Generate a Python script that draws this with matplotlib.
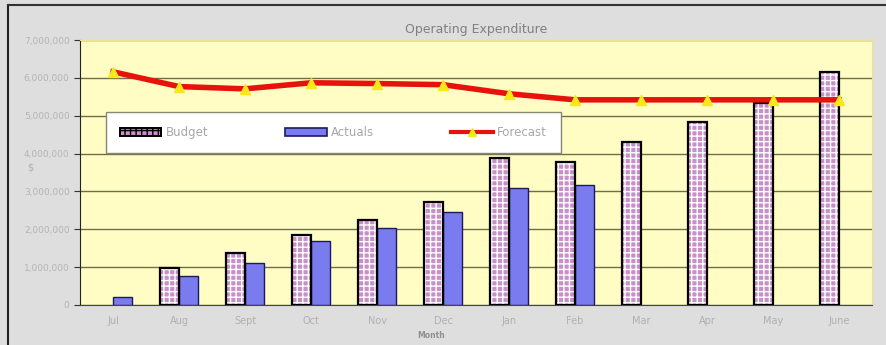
import matplotlib.pyplot as plt
import numpy as np
from matplotlib.patches import Patch
from matplotlib.lines import Line2D
from matplotlib.ticker import FuncFormatter

# Chart data
months = ["Jul", "Aug", "Sept", "Oct", "Nov", "Dec", "Jan", "Feb", "Mar", "Apr", "May", "June"]
budget = [0, 980000, 1370000, 1850000, 2250000, 2720000, 3890000, 3780000,
          4310000, 4840000, 5340000, 6160000]
actuals = [210000, 770000, 1110000, 1690000, 2040000, 2460000, 3090000, 3170000,
           0, 0, 0, 0]
forecast = [6160000, 5770000, 5710000, 5870000, 5850000, 5820000, 5580000, 5420000,
            5420000, 5420000, 5420000, 5420000]

fig = plt.figure(figsize=(8.86, 3.45), dpi=100)
fig.patch.set_facecolor("#dedede")
ax = fig.add_axes([0.0903, 0.116, 0.894, 0.768])
ax.set_facecolor("#fffcc4")

x = np.arange(len(months))
w = 0.29

# empty months are not drawn
bud = np.array(budget, dtype=float)
bud[bud == 0] = np.nan
act = np.array(actuals, dtype=float)
act[act == 0] = np.nan

# Budget: checkered pink bars with black outline
ax.bar(x - w / 2, bud, w, color="#c890c8", edgecolor="white", hatch="+++",
       linewidth=0, zorder=2)
ax.bar(x - w / 2, bud, w, fill=False, edgecolor="black", linewidth=1.6, zorder=3)

# Actuals: blue bars
ax.bar(x + w / 2, act, w, color="#7b7bf0", edgecolor="#1a1a60", linewidth=1.0, zorder=2)

# Forecast line
ax.plot(x, forecast, color="#e8120c", linewidth=4, marker="^", markersize=7,
        markerfacecolor="#f7e81c", markeredgecolor="#f7e81c", zorder=4)

ax.set_xlim(-0.5, len(months) - 0.5)
ax.set_ylim(0, 7000000)
ax.set_yticks(np.arange(0, 7000001, 1000000))
ax.yaxis.set_major_formatter(FuncFormatter(lambda v, p: f"{int(v):,}"))
ax.grid(axis="y", color="#6e6e48", linewidth=1.0, zorder=1)
ax.set_axisbelow(True)

ax.set_xticks(x)
ax.set_xticklabels(months, color="#b0b0b0", fontsize=7)
ax.tick_params(axis="y", labelcolor="#b4b4b4", labelsize=6.5, direction="out",
               length=4, color="#333333")
ax.tick_params(axis="x", length=0, pad=8)
for s in ["top", "right"]:
    ax.spines[s].set_color("#f0e090")
ax.spines["left"].set_color("#222222")
ax.spines["bottom"].set_color("#444444")

ax.set_title("Operating Expenditure", fontsize=9, color="#808080", pad=5)
ax.set_ylabel("$", fontsize=7, color="#b0b0b0", rotation=0, labelpad=4)
ax.yaxis.set_label_coords(-0.063, 0.5)
ax.text(0.443, -0.10, "Month", transform=ax.transAxes, fontsize=5.5,
        fontweight="bold", color="#909090", ha="center", va="top")

handles = [
    Patch(facecolor="#c890c8", edgecolor="black", hatch="+++", linewidth=1.4),
    Patch(facecolor="#7b7bf0", edgecolor="#1a1a60", linewidth=1.2),
    Line2D([], [], color="#e8120c", linewidth=3, marker="^", markersize=6,
           markerfacecolor="#f7e81c", markeredgecolor="#f7e81c"),
]
leg = ax.legend(handles, ["Budget", "Actuals", "Forecast"], ncol=3, loc="upper left",
                bbox_to_anchor=(0.025, 0.752), frameon=True, fancybox=False,
                fontsize=8.5, labelcolor="#a8a8a8", handlelength=3.5,
                columnspacing=6.5, borderpad=1.2, handletextpad=0.4)
leg.get_frame().set_edgecolor("#888870")
leg.get_frame().set_facecolor("white")
leg.get_frame().set_alpha(1)
leg.set_zorder(5)

# outer screenshot border (left and top)
fig.add_artist(Line2D([0.009, 0.009], [0, 0.985], transform=fig.transFigure,
                      color="#222222", linewidth=1.5))
fig.add_artist(Line2D([0.009, 1], [0.985, 0.985], transform=fig.transFigure,
                      color="#333333", linewidth=1.5))

fig.savefig("out.png", dpi=100, facecolor=fig.get_facecolor())
